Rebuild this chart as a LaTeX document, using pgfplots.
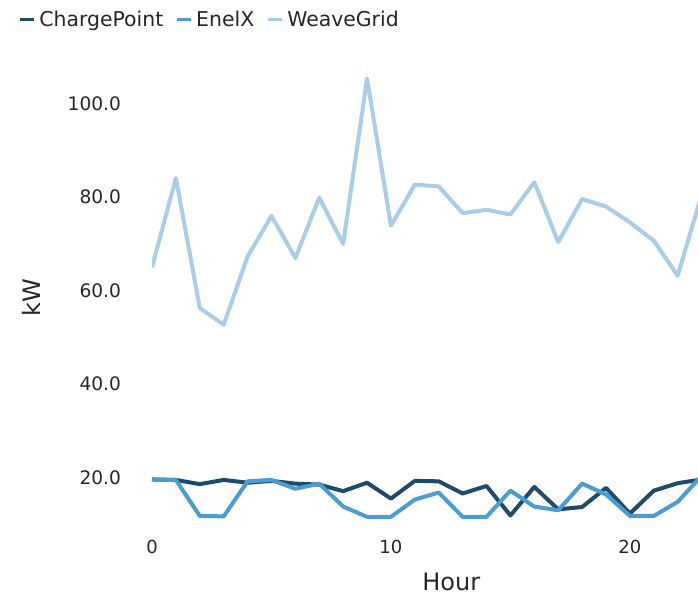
\documentclass[border=0pt]{standalone}
\usepackage{fontspec}
\setmainfont{DejaVu Sans}
\usepackage{pgfplots}
\pgfplotsset{compat=1.18}
\definecolor{cpcol}{HTML}{1D4B6B}
\definecolor{encol}{HTML}{4B9CD2}
\definecolor{wgcol}{HTML}{A8CDE8}
\begin{document}
\begin{tikzpicture}
\begin{axis}[
  name=ax,
  scale only axis,
  width=273pt, height=236pt,
  xmin=0, xmax=22.85, ymin=9, ymax=110,
  clip=true,
  axis line style={draw=none},
  tick style={draw=none},
  xtick={0,10,20}, ytick={20,40,60,80,100},
  /pgf/number format/assume math mode=true,
  yticklabel={\pgfmathprintnumber[fixed,fixed zerofill,precision=1]{\tick}},
  xticklabel style={font=\fontsize{9}{10}\selectfont, text=black!85, yshift=-2pt},
  yticklabel style={font=\fontsize{9.3}{10}\selectfont, text=black!85, xshift=-12pt},
  xlabel={Hour}, ylabel={kW},
  label style={font=\fontsize{12}{14}\selectfont, text=black!85},
  xlabel style={at={(axis description cs:0.548,0)}, anchor=center, yshift=-26.5pt},
  ylabel style={at={(axis description cs:-0.22,0.49)}, anchor=center},
  legend columns=-1,
  legend style={at={(axis description cs:0,1)}, anchor=west, xshift=-67pt, yshift=18.5pt,
    draw=none, fill=none, font=\fontsize{10.2}{12}\selectfont, text=black!85,
    /tikz/every even column/.append style={column sep=4pt}, inner sep=0pt},
  legend image code/.code={\draw[#1, line width=1.5pt] (0pt,0pt) -- (7pt,0pt);},
  every axis plot/.append style={line width=2pt, line join=round},
]
\addplot[cpcol] coordinates {
(0,19.6)(1,19.5)(2,18.6)(3,19.5)(4,18.9)(5,19.3)(6,18.7)(7,18.5)(8,17.1)(9,18.9)
(10,15.5)(11,19.3)(12,19.2)(13,16.6)(14,18.2)(15,11.9)(16,18.0)(17,13.2)(18,13.7)(19,17.8)
(20,12.3)(21,17.2)(22,18.8)(23,19.6)};
\addlegendentry{ChargePoint}
\addplot[encol] coordinates {
(0,19.6)(1,19.5)(2,11.8)(3,11.7)(4,19.2)(5,19.5)(6,17.6)(7,18.7)(8,13.8)(9,11.6)
(10,11.6)(11,15.3)(12,16.8)(13,11.6)(14,11.6)(15,17.2)(16,13.8)(17,13.0)(18,18.7)(19,16.4)
(20,11.8)(21,11.8)(22,14.8)(23,20.4)};
\addlegendentry{EnelX}
\addplot[wgcol] coordinates {
(0,65.0)(1,84.1)(2,56.3)(3,52.7)(4,67.3)(5,76.0)(6,67.0)(7,79.9)(8,70.0)(9,105.4)
(10,73.9)(11,82.7)(12,82.3)(13,76.6)(14,77.3)(15,76.3)(16,83.2)(17,70.4)(18,79.6)(19,78.0)
(20,74.6)(21,70.7)(22,63.2)(23,80.5)};
\addlegendentry{WeaveGrid}
\end{axis}
\pgfresetboundingbox
\path ([xshift=-76pt,yshift=-35.5pt]ax.south west) rectangle ([yshift=28.5pt]ax.north east);
\end{tikzpicture}
\end{document}
